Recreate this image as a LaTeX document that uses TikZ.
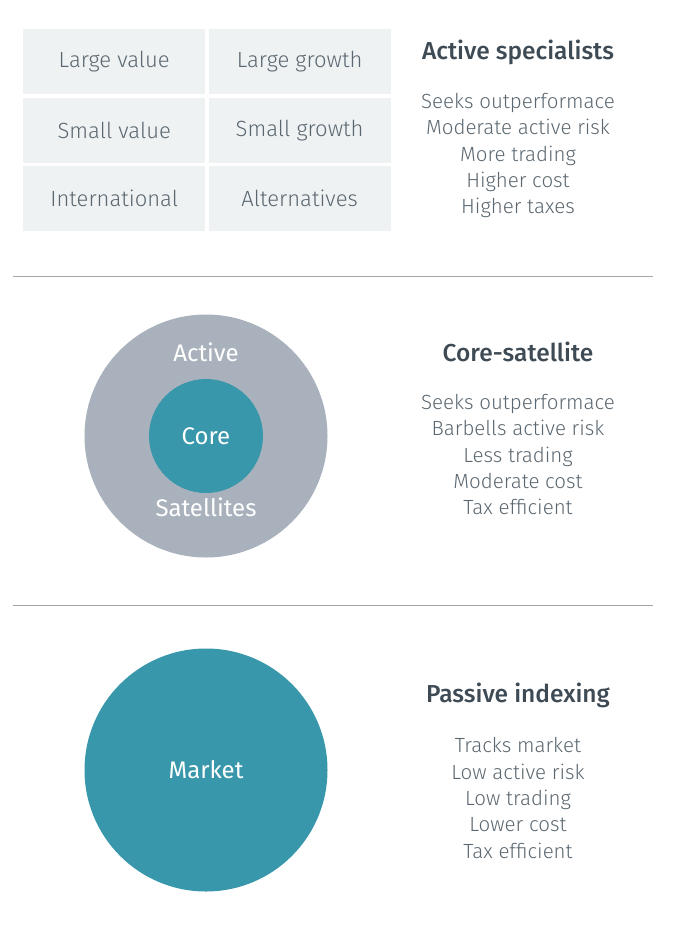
\documentclass[tikz,border=0pt]{standalone}
\usepackage{fontspec}
\setmainfont{Fira Sans}[UprightFont=* Light, BoldFont=* Medium]
\newfontfamily\discfont{Fira Sans}
\usetikzlibrary{positioning}
\definecolor{cellgray}{HTML}{EEF2F3}
\definecolor{txtgray}{HTML}{5B6770}
\definecolor{headgray}{HTML}{3E4A54}
\definecolor{rulegray}{HTML}{A6A6A6}
\definecolor{ringgray}{HTML}{A9B2BC}
\definecolor{teal}{HTML}{3897AA}

\begin{document}
\begin{tikzpicture}[x=1pt, y=-1pt]
    \tikzstyle{cell}  = [fill=cellgray, minimum width=182pt, minimum height=65pt, inner sep=0pt, text=txtgray, font=\fontsize{22}{26}\selectfont]
    \tikzstyle{head}  = [text=headgray, font=\fontsize{24.5}{28}\selectfont\bfseries]
    \tikzstyle{facts} = [text=txtgray, align=center, font=\fontsize{20.5}{26.3}\selectfont]
    \tikzstyle{disc}  = [circle, inner sep=0pt, text=white, font=\discfont\fontsize{24}{28}\selectfont]
    \tikzstyle{sep}   = [draw=rulegray, line width=0.8pt]

    \useasboundingbox (0,0) rectangle (678,929);

    % Active specialists grid
    \node [cell, anchor=north west] (lv) at (23,29) {Large value};
    \node [cell, right=3pt of lv] (lg) {Large growth};
    \node [cell, below=3pt of lv] (sv) {Small value};
    \node [cell, right=3pt of sv] (sg) {Small growth};
    \node [cell, below=3pt of sv] (intl) {International};
    \node [cell, right=3pt of intl] (alt) {Alternatives};

    \node [head] (acthead) at (518,52) {Active specialists};
    \node [facts] (actfacts) at (518,155.5) {Seeks outperformace\\Moderate active risk\\More trading\\Higher cost\\Higher taxes};

    \draw [sep] (13,276) -- (653,276);

    % Core-satellite
    \node [disc, fill=ringgray, minimum size=243pt] (ring) at (206,436) {};
    \node [disc, fill=teal, minimum size=114pt] (core) at (ring.center) {Core};
    \node [disc] (activelbl) at (206,352) {Active};
    \node [disc] (satlbl) at (206,507) {Satellites};

    \node [head] (corehead) at (518,352) {Core-satellite};
    \node [facts] (corefacts) at (518,454.5) {Seeks outperformace\\Barbells active risk\\Less trading\\Moderate cost\\Tax efficient};

    \draw [sep] (13,605) -- (653,605);

    % Passive indexing
    \node [disc, fill=teal, minimum size=243pt] (market) at (206,770) {Market};

    \node [head] (passhead) at (518,695) {Passive indexing};
    \node [facts] (passfacts) at (518,798) {Tracks market\\Low active risk\\Low trading\\Lower cost\\Tax efficient};

\end{tikzpicture}
\end{document}
